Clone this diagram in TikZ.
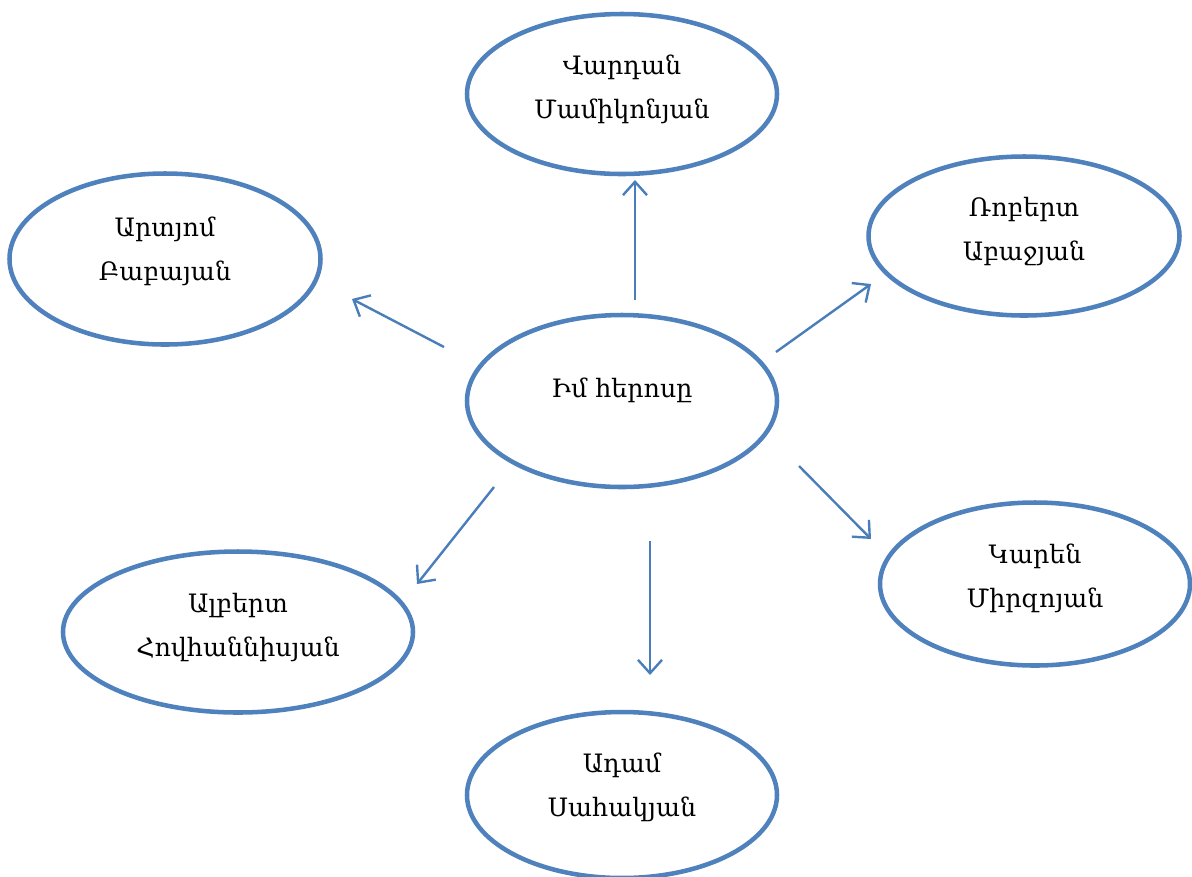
\documentclass[tikz,border=0pt]{standalone}
\usepackage{fontspec}
\setmainfont{DejaVu Serif}
\usetikzlibrary{arrows.meta}
\definecolor{ell}{HTML}{4F81BD}
\definecolor{arr}{HTML}{4A7EBB}
\tikzset{
  hero/.style={ellipse, draw=ell, line width=3.4pt, align=center, font=\fontsize{19}{33}\selectfont, inner sep=0pt},
  heroname/.style={align=center, font=\fontsize{19}{33}\selectfont, inner sep=0pt},
  link/.style={draw=arr, line width=1.8pt, -{Straight Barb[length=10pt,width=18pt,line width=1.8pt]}}
}
\usetikzlibrary{shapes.geometric}
\begin{document}
\begin{tikzpicture}[x=0.75pt,y=-0.75pt]
\useasboundingbox (0,0) rectangle (1192,876);
\node[hero, minimum width=310*0.75pt, minimum height=172*0.75pt] (c) at (622,401) {};
\node[heroname] (ct) at (622,390) {Իմ հերոսը};
\node[hero, minimum width=310*0.75pt, minimum height=160*0.75pt] (t) at (622,94) {};
\node[heroname] (tt) at (622,89) {Վարդան\\Մամիկոնյան};
\node[hero, minimum width=311*0.75pt, minimum height=171*0.75pt] (lt) at (165,259) {};
\node[heroname] (ltt) at (165,251) {Արտյոմ\\Բաբայան};
\node[hero, minimum width=311*0.75pt, minimum height=159*0.75pt] (rt) at (1024,236) {};
\node[heroname] (rtt) at (1024,232) {Ռոբերտ\\Աբաջյան};
\node[hero, minimum width=310*0.75pt, minimum height=163*0.75pt] (rb) at (1035,584) {};
\node[heroname] (rbt) at (1035,578) {Կարեն\\Միրզոյան};
\node[hero, minimum width=350*0.75pt, minimum height=161*0.75pt] (lb) at (238,632) {};
\node[heroname] (lbt) at (238,627) {Ալբերտ\\Հովհաննիսյան};
\node[hero, minimum width=310*0.75pt, minimum height=166*0.75pt] (b) at (622,795) {};
\node[heroname] (bt) at (622,787) {Ադամ\\Սահակյան};
\coordinate (a1s) at (635,300); \coordinate (a1e) at (635,180);
\coordinate (a2s) at (444,347); \coordinate (a2e) at (352,299);
\coordinate (a3s) at (776,352); \coordinate (a3e) at (871,284);
\coordinate (a4s) at (799,466); \coordinate (a4e) at (871,539);
\coordinate (a5s) at (494,487); \coordinate (a5e) at (417,584);
\coordinate (a6s) at (650,541); \coordinate (a6e) at (650,675);
\draw[link] (a1s) -- (a1e);
\draw[link] (a2s) -- (a2e);
\draw[link] (a3s) -- (a3e);
\draw[link] (a4s) -- (a4e);
\draw[link] (a5s) -- (a5e);
\draw[link] (a6s) -- (a6e);
\end{tikzpicture}
\end{document}
